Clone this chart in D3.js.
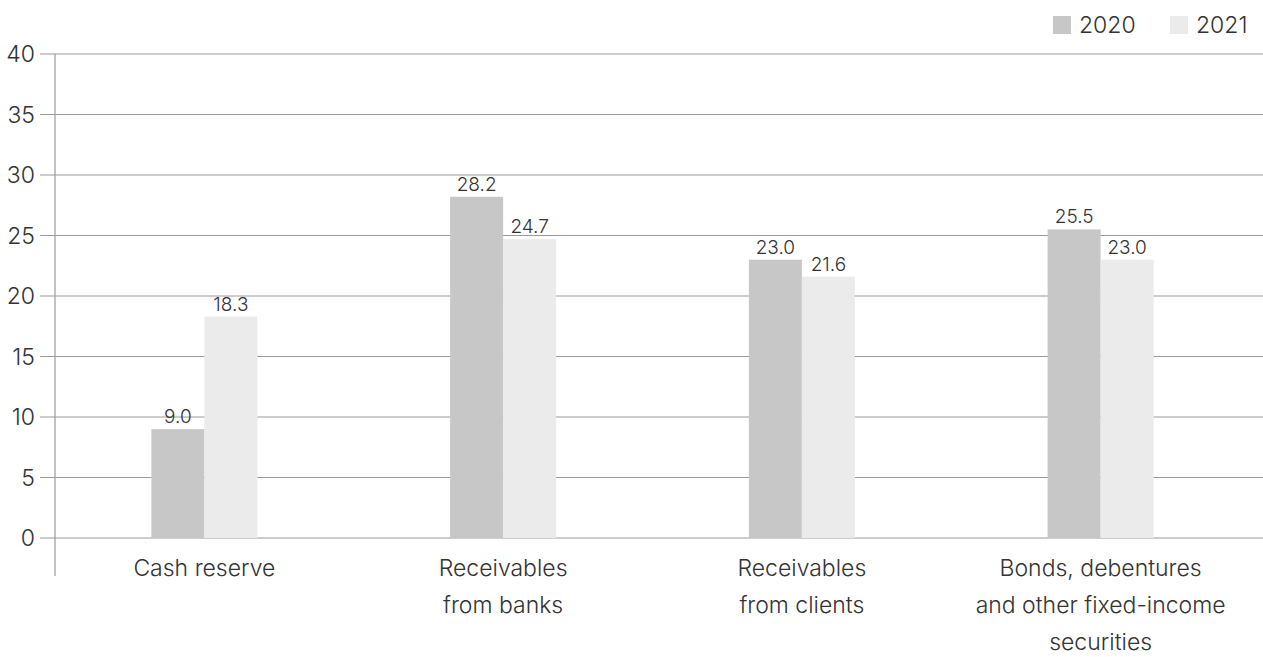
<!DOCTYPE html>
<html>
<head>
<meta charset="utf-8">
<script src="https://cdn.jsdelivr.net/npm/d3@7"></script>
<style>
  body { margin: 0; background: #fff; }
  text { font-family: Inter, "Noto Sans", sans-serif; fill: #333; }
</style>
</head>
<body>
<svg id="chart"></svg>
<script>
const categories = [
    ["Cash reserve"],
    ["Receivables", "from banks"],
    ["Receivables", "from clients"],
    ["Bonds, debentures", "and other fixed-income", "securities"]
];
const series = ["2020", "2021"];
const values2020 = [9.0, 28.2, 23.0, 25.5];
const values2021 = [18.3, 24.7, 21.6, 23.0];
const yTicks = [0, 5, 10, 15, 20, 25, 30, 35, 40];

const width = 1263;
const height = 657;
const colors = { "2020": "#c6c7c6", "2021": "#ebebeb" };

const svg = d3.select("#chart")
    .attr("width", width)
    .attr("height", height);

const x = d3.scaleBand()
    .domain(d3.range(categories.length))
    .range([55, 1250])
    .paddingInner(0)
    .paddingOuter(0);

const groupW = 106;
const x1 = d3.scaleBand()
    .domain(series)
    .range([0, groupW]);

const y = d3.scaleLinear()
    .domain([0, 40])
    .range([538, 54]);

// gridlines
svg.append("g")
    .selectAll("line")
    .data(yTicks)
    .join("line")
    .attr("x1", 40)
    .attr("x2", width)
    .attr("y1", d => y(d))
    .attr("y2", d => y(d))
    .style("stroke", "#9a9a9a")
    .style("stroke-width", 1.2);

// tick labels
svg.append("g")
    .selectAll("text")
    .data(yTicks)
    .join("text")
    .attr("x", 35)
    .attr("y", d => y(d))
    .attr("dy", "0.36em")
    .attr("text-anchor", "end")
    .style("font-size", "23px")
    .style("font-weight", 300)
    .text(d => d);

// y axis line
svg.append("line")
    .attr("x1", 55).attr("x2", 55)
    .attr("y1", y(40)).attr("y2", 576)
    .style("stroke", "#9a9a9a")
    .style("stroke-width", 1.2);

// bars
const rows = categories.map((c, i) => ({
    i,
    vals: [
        { key: "2020", value: values2020[i] },
        { key: "2021", value: values2021[i] }
    ]
}));

const groups = svg.append("g")
    .selectAll("g")
    .data(rows)
    .join("g")
    .attr("transform", d => `translate(${x(d.i) + x.bandwidth() / 2 - groupW / 2},0)`);

groups.selectAll("rect")
    .data(d => d.vals)
    .join("rect")
    .attr("x", d => x1(d.key))
    .attr("width", x1.bandwidth())
    .attr("y", d => y(d.value))
    .attr("height", d => y(0) - y(d.value))
    .style("fill", d => colors[d.key]);

groups.selectAll("text")
    .data(d => d.vals)
    .join("text")
    .attr("x", d => x1(d.key) + x1.bandwidth() / 2)
    .attr("y", d => y(d.value) - 6)
    .attr("text-anchor", "middle")
    .style("font-size", "19px")
    .style("font-weight", 300)
    .text(d => d.value.toFixed(1));

// category labels
categories.forEach((lines, i) => {
    const t = svg.append("text")
        .attr("x", x(i) + x.bandwidth() / 2)
        .attr("y", 576)
        .attr("text-anchor", "middle")
        .style("font-size", "23px")
        .style("font-weight", 300);
    lines.forEach((l, j) => {
        t.append("tspan")
            .attr("x", x(i) + x.bandwidth() / 2)
            .attr("dy", j === 0 ? 0 : 37)
            .text(l);
    });
});

// legend
const legendX = [1053, 1170];
series.forEach((s, i) => {
    svg.append("rect")
        .attr("x", legendX[i])
        .attr("y", 16)
        .attr("width", 18)
        .attr("height", 18)
        .style("fill", colors[s]);
    svg.append("text")
        .attr("x", legendX[i] + 26)
        .attr("y", 25)
        .attr("dy", "0.36em")
        .style("font-size", "23px")
        .style("font-weight", 300)
        .text(s);
});
</script>
</body>
</html>
